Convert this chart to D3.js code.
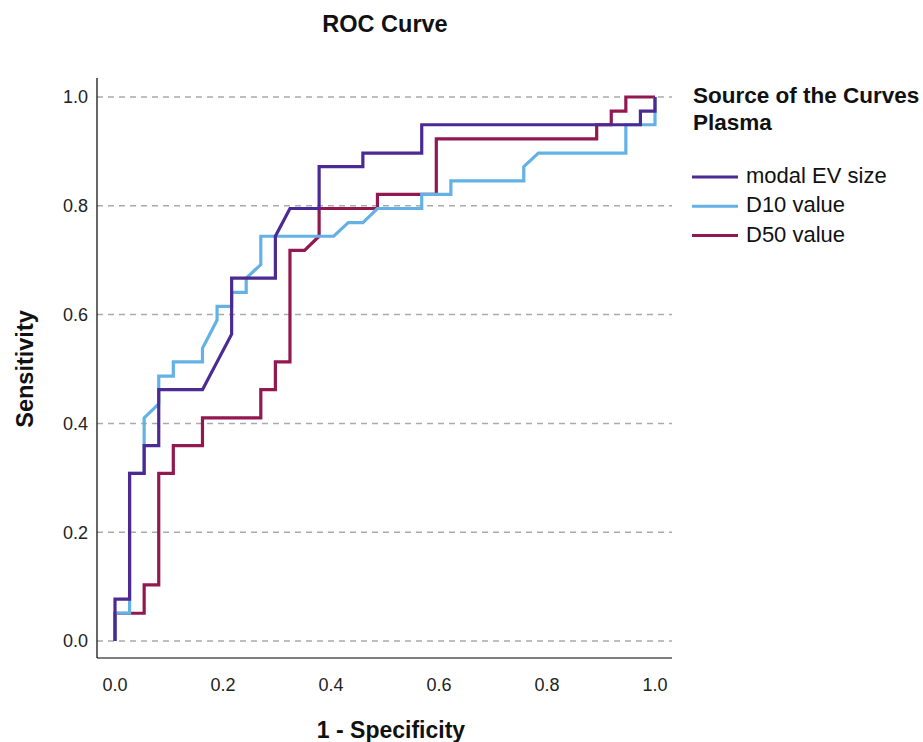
<!DOCTYPE html>
<html>
<head>
<meta charset="utf-8">
<script src="https://cdn.jsdelivr.net/npm/d3@7"></script>
<style>
  body { margin: 0; background: #fff; }
  text { font-family: "Liberation Sans", Arial, sans-serif; }
</style>
</head>
<body>
<div id="chart"></div>
<script>
// ROC curves, plasma EV measures

const width = 923, height = 742;

// tick values shared by both axes
const ticks = [0, 0.2, 0.4, 0.6, 0.8, 1.0];

const seriesNames = ["modal EV size", "D10 value", "D50 value"];
const seriesColors = ["#4b2b93", "#63b1e5", "#92194f"];

// [1 - specificity, sensitivity]
const modalEV = [
  [0, 0], [0, 0.077], [0.027, 0.077], [0.027, 0.308], [0.054, 0.308], [0.054, 0.359],
  [0.081, 0.359], [0.081, 0.462], [0.162, 0.462], [0.216, 0.564], [0.216, 0.667],
  [0.297, 0.667], [0.297, 0.744], [0.324, 0.795], [0.378, 0.795], [0.378, 0.872],
  [0.459, 0.872], [0.459, 0.897], [0.568, 0.897], [0.568, 0.949], [0.973, 0.949],
  [0.973, 0.974], [1, 0.974], [1, 1]
];

const d10 = [
  [0, 0], [0, 0.051], [0.027, 0.051], [0.027, 0.308], [0.054, 0.308], [0.054, 0.41],
  [0.081, 0.436], [0.081, 0.487], [0.108, 0.487], [0.108, 0.513], [0.162, 0.513],
  [0.162, 0.538], [0.189, 0.59], [0.189, 0.615], [0.216, 0.615], [0.216, 0.641],
  [0.243, 0.641], [0.243, 0.667], [0.27, 0.692], [0.27, 0.744], [0.405, 0.744],
  [0.432, 0.769], [0.459, 0.769], [0.486, 0.795], [0.568, 0.795], [0.568, 0.821],
  [0.622, 0.821], [0.622, 0.846], [0.757, 0.846], [0.757, 0.872], [0.784, 0.897],
  [0.946, 0.897], [0.946, 0.949], [1, 0.949], [1, 1]
];

const d50 = [
  [0, 0], [0, 0.051], [0.054, 0.051], [0.054, 0.103], [0.081, 0.103], [0.081, 0.308],
  [0.108, 0.308], [0.108, 0.359], [0.162, 0.359], [0.162, 0.41], [0.27, 0.41],
  [0.27, 0.462], [0.297, 0.462], [0.297, 0.513], [0.324, 0.513], [0.324, 0.718],
  [0.351, 0.718], [0.378, 0.744], [0.378, 0.795], [0.486, 0.795], [0.486, 0.821],
  [0.595, 0.821], [0.595, 0.923], [0.892, 0.923], [0.892, 0.949], [0.919, 0.949],
  [0.919, 0.974], [0.946, 0.974], [0.946, 1], [1, 1]
];

const allSeries = [modalEV, d10, d50];

const svg = d3.select("#chart")
  .append("svg")
  .attr("width", width)
  .attr("height", height)
  .attr("viewBox", [0, 0, width, height]);

const x = d3.scaleLinear().domain([0, 1]).range([115, 655]);
const y = d3.scaleLinear().domain([0, 1]).range([641, 97]);

const axisLeft = 97, axisBottom = 658, axisRight = 672, axisTop = 78;

// dashed gridlines
svg.append("g")
  .selectAll("line")
  .data(ticks)
  .join("line")
  .attr("x1", axisLeft)
  .attr("x2", axisRight)
  .attr("y1", d => y(d))
  .attr("y2", d => y(d))
  .attr("stroke", "#aaaaaa")
  .attr("stroke-width", 1.5)
  .attr("stroke-dasharray", "6,5");

// axis lines (no tick marks in the original)
svg.append("line")
  .attr("x1", axisLeft).attr("x2", axisLeft)
  .attr("y1", axisTop).attr("y2", axisBottom)
  .attr("stroke", "#000").attr("stroke-width", 1.2);
svg.append("line")
  .attr("x1", axisLeft).attr("x2", axisRight)
  .attr("y1", axisBottom).attr("y2", axisBottom)
  .attr("stroke", "#000").attr("stroke-width", 1.2);

// tick labels
svg.append("g")
  .attr("font-size", 18)
  .attr("fill", "#222")
  .selectAll("text")
  .data(ticks)
  .join("text")
  .attr("x", 88)
  .attr("y", d => y(d))
  .attr("dy", "0.35em")
  .attr("text-anchor", "end")
  .text(d => d.toFixed(1));

svg.append("g")
  .attr("font-size", 18)
  .attr("fill", "#222")
  .selectAll("text")
  .data(ticks)
  .join("text")
  .attr("x", d => x(d))
  .attr("y", 691)
  .attr("text-anchor", "middle")
  .text(d => d.toFixed(1));

// curves
const line = d3.line().x(d => x(d[0])).y(d => y(d[1]));

// draw D50 first, then D10, then modal on top
[2, 1, 0].forEach(i => {
  svg.append("path")
    .datum(allSeries[i])
    .attr("fill", "none")
    .attr("stroke", seriesColors[i])
    .attr("stroke-width", 3.2)
    .attr("stroke-linejoin", "miter")
    .attr("d", line);
});

// titles
svg.append("text")
  .attr("x", 385)
  .attr("y", 32)
  .attr("text-anchor", "middle")
  .attr("font-size", 23.5)
  .attr("font-weight", "bold")
  .attr("fill", "#111")
  .text("ROC Curve");

svg.append("text")
  .attr("x", 391)
  .attr("y", 738)
  .attr("text-anchor", "middle")
  .attr("font-size", 23)
  .attr("font-weight", "bold")
  .attr("fill", "#111")
  .text("1 - Specificity");

svg.append("text")
  .attr("transform", "translate(33,369) rotate(-90)")
  .attr("text-anchor", "middle")
  .attr("font-size", 23.5)
  .attr("font-weight", "bold")
  .attr("fill", "#111")
  .text("Sensitivity");

// legend
const legend = svg.append("g")
  .style("font-family", "'Open Sans', 'Noto Sans', sans-serif")
  .attr("fill", "#111");

legend.append("text")
  .attr("x", 693).attr("y", 103)
  .attr("font-size", 22.5).attr("font-weight", "bold")
  .text("Source of the Curves");
legend.append("text")
  .attr("x", 693).attr("y", 130)
  .attr("font-size", 22.5).attr("font-weight", "bold")
  .text("Plasma");

const items = legend.selectAll("g.item")
  .data(seriesNames)
  .join("g")
  .attr("class", "item")
  .attr("transform", (d, i) => `translate(0, ${177 + i * 29.3})`);

items.append("line")
  .attr("x1", 692).attr("x2", 738)
  .attr("stroke", (d, i) => seriesColors[i])
  .attr("stroke-width", 3);

items.append("text")
  .attr("x", 746)
  .attr("dy", "0.27em")
  .attr("font-size", 22)
  .text(d => d);
</script>
</body>
</html>
